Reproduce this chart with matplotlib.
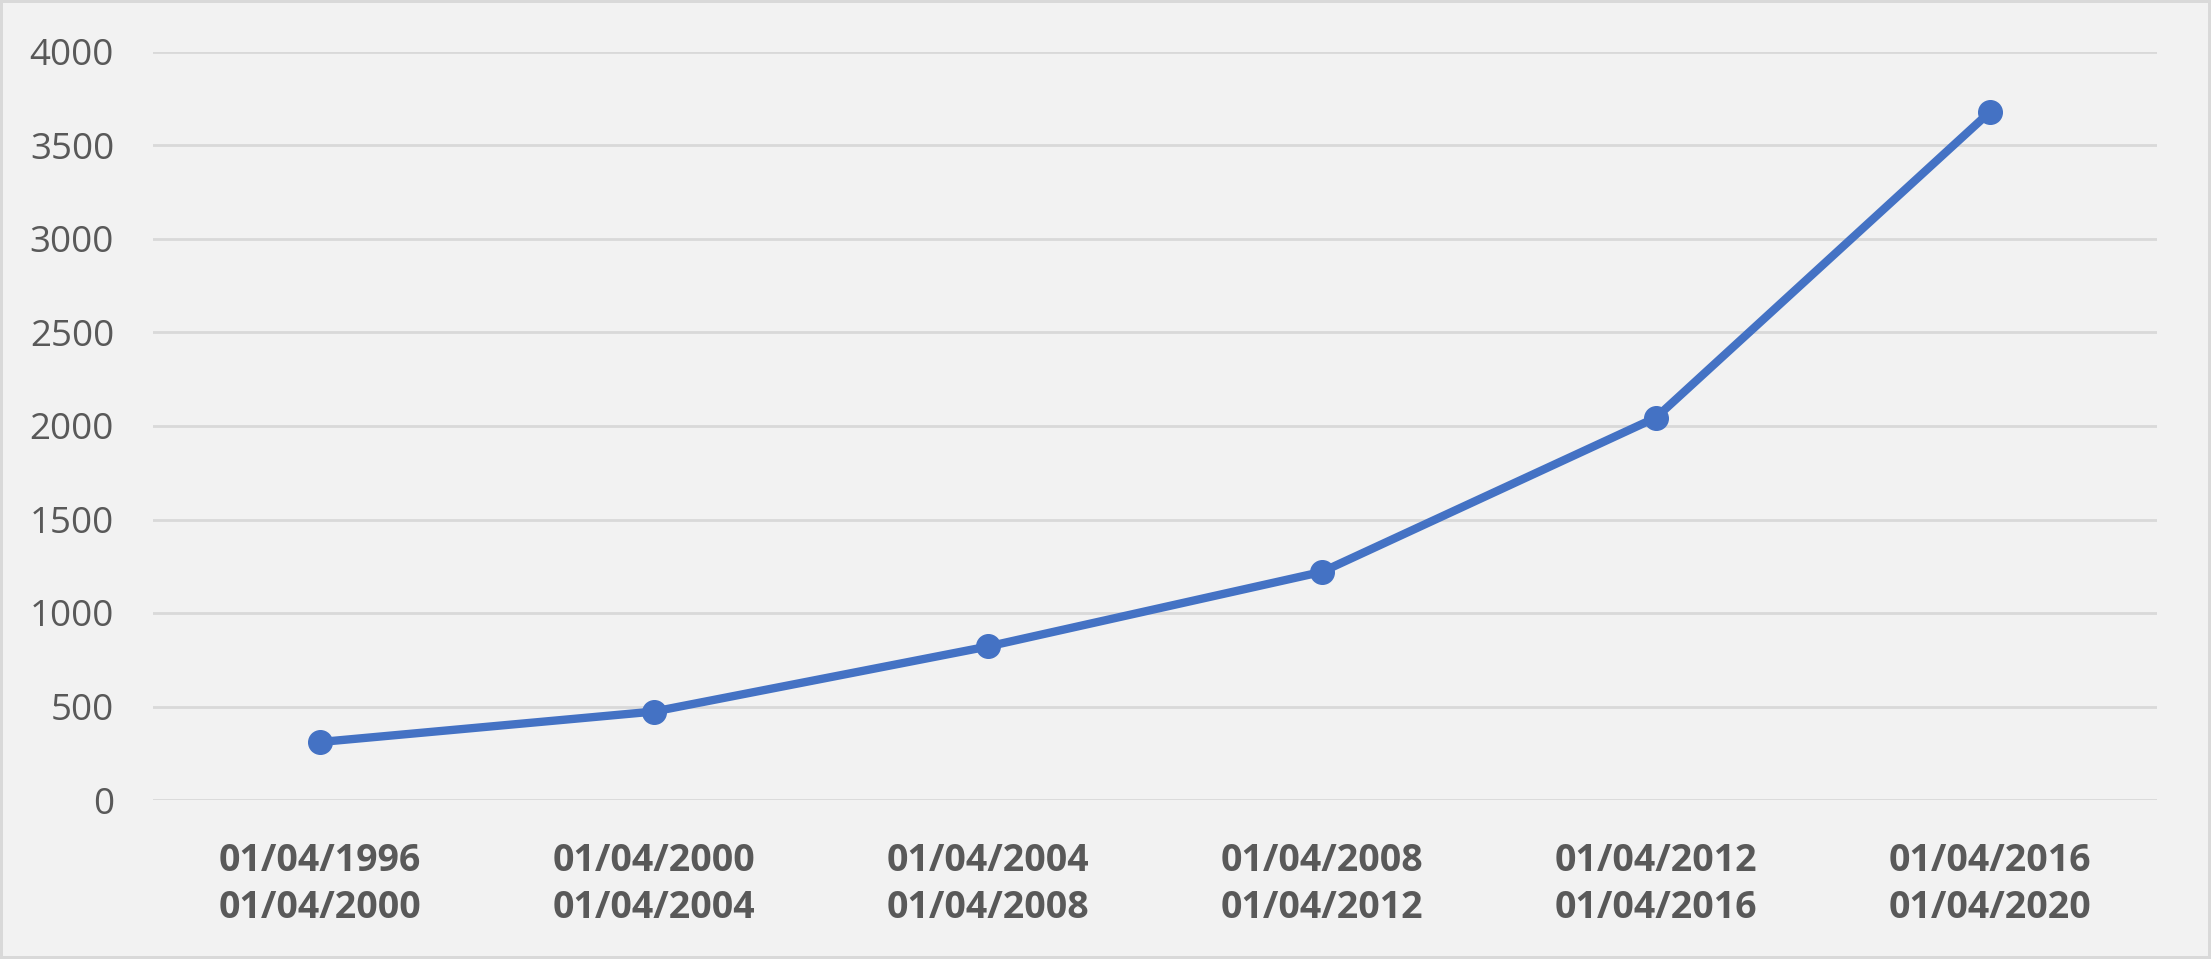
import matplotlib.pyplot as plt

plt.rcParams['font.family'] = ['Open Sans', 'DejaVu Sans']

periods = ['01/04/1996\n01/04/2000', '01/04/2000\n01/04/2004', '01/04/2004\n01/04/2008',
           '01/04/2008\n01/04/2012', '01/04/2012\n01/04/2016', '01/04/2016\n01/04/2020']
values = [310, 473, 821, 1220, 2045, 3680]
yticks = [0, 500, 1000, 1500, 2000, 2500, 3000, 3500, 4000]

bg = '#F2F2F2'
fig = plt.figure(figsize=(22.11, 9.59), dpi=100, facecolor=bg,
                 edgecolor='#D9D9D9', linewidth=3)
ax = fig.add_axes([153/2211, 1 - 800/959, 2004/2211, 748/959])
ax.set_facecolor(bg)

x = list(range(len(values)))
ax.plot(x, values, color='#4472C4', lw=6, marker='o', ms=17, zorder=3)

ax.set_xlim(-0.5, len(values) - 0.5)
ax.set_ylim(0, 4000)
ax.set_yticks(yticks)
ax.set_yticklabels([str(v) for v in yticks])
ax.set_xticks(x)
ax.set_xticklabels(periods, fontweight='bold', linespacing=1.33)

ax.grid(axis='y', color='#D9D9D9', lw=2)
ax.set_axisbelow(True)
for s in ax.spines.values():
    s.set_visible(False)
ax.tick_params(axis='both', length=0, labelsize=27, colors='#595959')
ax.tick_params(axis='y', labelsize=26.5, pad=28)
ax.tick_params(axis='x', pad=30)

fig.savefig('out.png', dpi=100, facecolor=bg, edgecolor='#D9D9D9')
